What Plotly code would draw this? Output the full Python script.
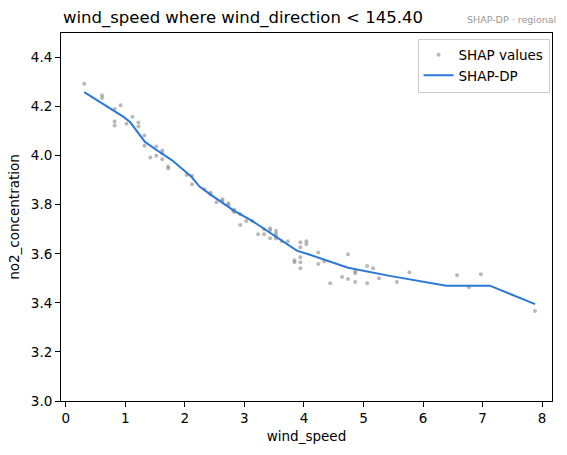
import plotly.graph_objects as go

# SHAP values (scatter)
shap_x = [0.31, 0.61, 0.61, 0.82, 0.82, 0.82, 0.92, 1.02, 1.12, 1.22, 1.22, 1.32, 1.32, 1.42,
          1.52, 1.52, 1.62, 1.62, 1.62, 1.72, 1.72, 2.03, 2.12, 2.12, 2.33, 2.43, 2.43, 2.53,
          2.63, 2.63, 2.73, 2.73, 2.83, 2.83, 2.81, 2.93, 2.93, 3.03, 3.13, 3.23, 3.33, 3.33,
          3.43, 3.43, 3.43, 3.53, 3.53, 3.53, 3.53, 3.63, 3.73, 3.84, 3.84, 3.94, 3.94, 3.94,
          3.94, 3.94, 4.04, 4.04, 4.24, 4.24, 4.34, 4.44, 4.64, 4.74, 4.74, 4.86, 4.86, 4.86,
          5.06, 5.06, 5.16, 5.26, 5.56, 5.77, 6.57, 6.77, 6.97, 7.88]
shap_y = [4.293, 4.246, 4.235, 4.19, 4.139, 4.123, 4.205, 4.13, 4.159, 4.135, 4.119, 4.082, 4.04, 3.993,
          4.037, 4.0, 4.021, 4.01, 3.985, 3.956, 3.948, 3.921, 3.918, 3.884, 3.863, 3.85, 3.842, 3.81,
          3.822, 3.814, 3.806, 3.798, 3.78, 3.77, 3.775, 3.761, 3.717, 3.734, 3.734, 3.68, 3.68, 3.70,
          3.704, 3.696, 3.663, 3.694, 3.682, 3.672, 3.662, 3.651, 3.651, 3.574, 3.566, 3.647, 3.627, 3.586,
          3.566, 3.541, 3.651, 3.639, 3.605, 3.558, 3.57, 3.48, 3.505, 3.598, 3.497, 3.529, 3.521, 3.485,
          3.55, 3.48, 3.541, 3.50, 3.485, 3.525, 3.513, 3.464, 3.517, 3.367]

# SHAP-DP curve
dp_x = [0.31, 0.97, 1.08, 1.33, 1.53, 1.78, 2.11, 2.25, 2.48, 2.81, 3.15, 3.48, 3.78, 3.88,
        4.10, 4.27, 4.74, 5.44, 6.39, 7.12, 7.88]
dp_y = [4.259, 4.158, 4.137, 4.056, 4.022, 3.982, 3.914, 3.873, 3.833, 3.778, 3.731, 3.677, 3.626, 3.613,
        3.596, 3.582, 3.543, 3.51, 3.47, 3.47, 3.395]

title_text = "wind_speed where wind_direction < 145.40"
tag_text = "SHAP-DP · regional"
x_label = "wind_speed"
y_label = "no2_concentration"
x_ticks = [0, 1, 2, 3, 4, 5, 6, 7, 8]
y_ticks = [3.0, 3.2, 3.4, 3.6, 3.8, 4.0, 4.2, 4.4]

FONT = "DejaVu Sans"

fig = go.Figure()
fig.add_trace(go.Scatter(
    x=shap_x, y=shap_y, mode="markers", name="SHAP values",
    marker=dict(size=4, color="rgba(128,128,128,0.55)", line=dict(width=0)),
))
fig.add_trace(go.Scatter(
    x=dp_x, y=dp_y, mode="lines", name="SHAP-DP",
    line=dict(color="#2b78d6", width=2),
))

axis_common = dict(
    showline=True, linecolor="black", linewidth=1, mirror=True,
    ticks="outside", ticklen=5, tickwidth=1, tickcolor="black",
    showgrid=False, zeroline=False,
    tickfont=dict(family=FONT, size=13.5, color="black"),
)

fig.update_layout(
    width=567, height=455,
    margin=dict(l=61, r=15, t=33, b=54),
    paper_bgcolor="white", plot_bgcolor="white",
    font=dict(family=FONT, color="black"),
    showlegend=True,
    legend=dict(
        x=0.995, y=0.985, xanchor="right", yanchor="top",
        bgcolor="rgba(255,255,255,0.8)", bordercolor="#cccccc", borderwidth=1,
        font=dict(family=FONT, size=13.5, color="black"),
        tracegroupgap=0,
    ),
    xaxis=dict(
        range=[-0.08, 8.165], tickvals=x_ticks,
        title=dict(text=x_label, font=dict(family=FONT, size=13.5), standoff=6),
        **axis_common,
    ),
    yaxis=dict(
        range=[3.0, 4.5], tickvals=y_ticks, tickformat=".1f",
        title=dict(text=y_label, font=dict(family=FONT, size=13.5), standoff=8),
        **axis_common,
    ),
    annotations=[
        dict(text=title_text, xref="paper", yref="paper", x=0, y=1,
             xanchor="left", yanchor="bottom", yshift=3, showarrow=False,
             font=dict(family=FONT, size=16.5, color="black")),
        dict(text=tag_text, xref="paper", yref="paper", x=1, y=1,
             xanchor="right", yanchor="bottom", yshift=6, xshift=6, showarrow=False,
             font=dict(family=FONT, size=9.5, color="#999999")),
    ],
)

fig.write_html("out.html")
